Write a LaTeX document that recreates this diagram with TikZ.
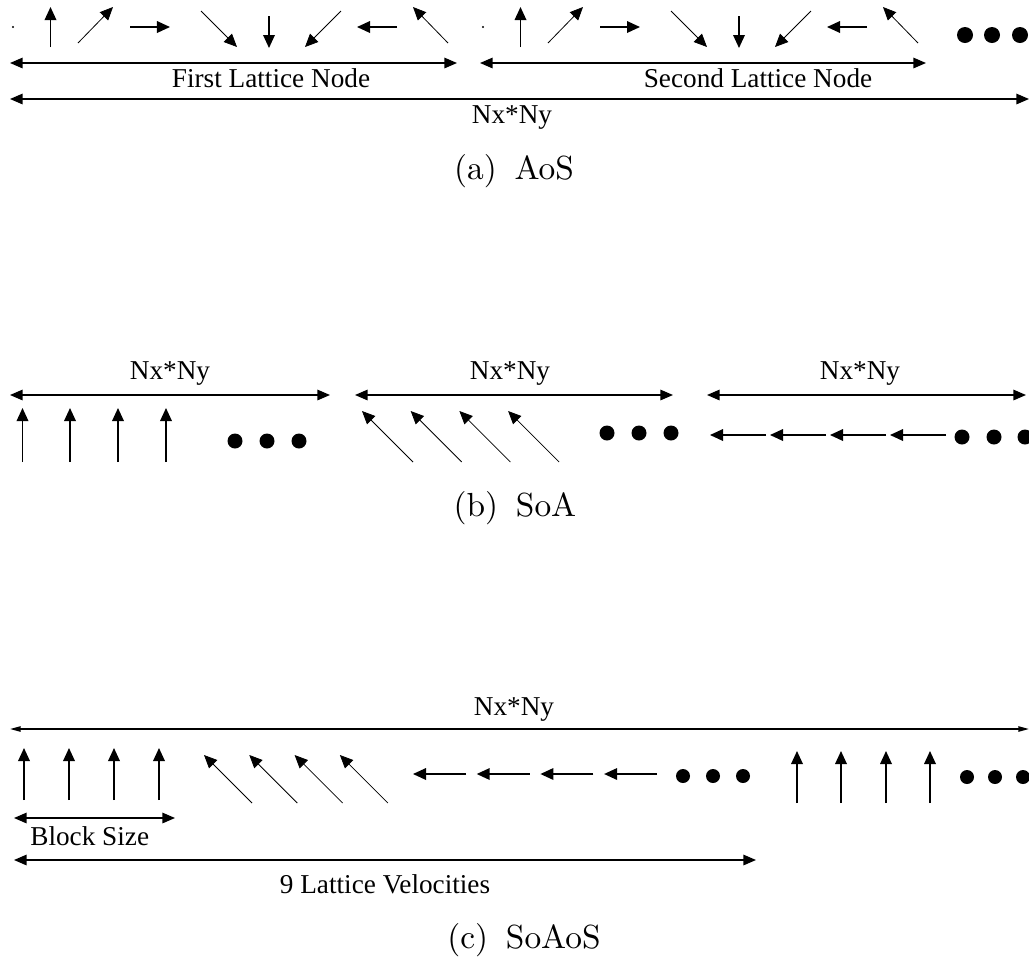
\documentclass[tikz,border=0pt]{standalone}
\usepackage{fontspec}
\newfontfamily\lblfont{Liberation Serif}
\newfontfamily\capfont{lmroman10-regular.otf}
\usetikzlibrary{arrows.meta}
\tikzset{
  vec/.style={line width=0.85pt,-{Triangle[length=7.4pt,width=6.6pt]}},
  dvec/.style={line width=0.45pt,-{Triangle[length=7.4pt,width=6.6pt]}},
  dimarrow/.style={line width=0.8pt,{Triangle[length=7.2pt,width=6pt]}-{Triangle[length=7.2pt,width=6pt]}},
  thindim/.style={line width=0.8pt,{Triangle[length=6pt,width=3pt]}-{Triangle[length=6pt,width=3pt]}},
  lbl/.style={font=\lblfont\fontsize{15.5}{18}\selectfont, inner sep=0pt, anchor=base},
  captext/.style={font=\capfont\fontsize{19}{22}\selectfont, inner sep=0pt, anchor=base},
}
\begin{document}
\begin{tikzpicture}[x=0.02cm,y=-0.02cm]
\useasboundingbox (0,0) rectangle (1029,958);

% ---------- (a) AoS ----------
\foreach \o in {0,470}{
  \fill (13+\o,27) circle[radius=1.2];
  \draw[vec]  (50.5+\o,47) -- (50.5+\o,7);
  \draw[dvec] (78+\o,43) -- (113+\o,7);
  \draw[vec]  (130+\o,27) -- (170+\o,27);
  \draw[dvec] (201+\o,11) -- (237+\o,47);
  \draw[vec]  (269+\o,16) -- (269+\o,48);
  \draw[dvec] (341+\o,11) -- (305+\o,47);
  \draw[vec]  (397+\o,27) -- (357+\o,27);
  \draw[dvec] (448+\o,43) -- (413+\o,7);
}
\foreach \x in {965,992,1020} \fill (\x,35) circle[radius=8];

\coordinate (a1l) at (10,63);  \coordinate (a1r) at (457,63);
\coordinate (a2l) at (480,63); \coordinate (a2r) at (926,63);
\coordinate (a3l) at (10,99);  \coordinate (a3r) at (1029,99);
\draw[dimarrow] (a1l) -- (a1r);
\draw[dimarrow] (a2l) -- (a2r);
\draw[dimarrow] (a3l) -- (a3r);
\node[lbl] (fln) at (271,87) {First Lattice Node};
\node[lbl] (sln) at (758,87) {Second Lattice Node};
\node[lbl] (anxny) at (512,123) {Nx*Ny};
\node[captext] (capa) at (514,179) {(a)\hspace{0.2em} AoS};

% ---------- (b) SoA ----------
\coordinate (b1l) at (10,395);  \coordinate (b1r) at (330,395);
\coordinate (b2l) at (355,395); \coordinate (b2r) at (673,395);
\coordinate (b3l) at (707,395); \coordinate (b3r) at (1026,395);
\draw[dimarrow] (b1l) -- (b1r);
\draw[dimarrow] (b2l) -- (b2r);
\draw[dimarrow] (b3l) -- (b3r);
\node[lbl] (bnxny1) at (170,379) {Nx*Ny};
\node[lbl] (bnxny2) at (510,379) {Nx*Ny};
\node[lbl] (bnxny3) at (860,379) {Nx*Ny};
\foreach \x in {22.5,70,118,166} \draw[vec] (\x,462) -- (\x,408);
\foreach \x in {235,267,299} \fill (\x,441) circle[radius=7.5];
\foreach \i in {0,1,2,3} \draw[dvec] (413+48.7*\i,462) -- (362+48.7*\i,411);
\foreach \x in {607,639,671} \fill (\x,433) circle[radius=7.5];
\foreach \i in {0,1,2,3} \draw[vec] (766+60*\i,435) -- (710+60*\i,435);
\foreach \x in {962,994,1025} \fill (\x,437) circle[radius=7.5];
\node[captext] (capb) at (515,516) {(b)\hspace{0.2em} SoA};

% ---------- (c) SoAoS ----------
\coordinate (c1l) at (10,729);  \coordinate (c1r) at (1029,729);
\draw[thindim] (c1l) -- (c1r);
\node[lbl] (cnxny) at (514,715) {Nx*Ny};
\foreach \x in {24,69,114,159} \draw[vec] (\x,800) -- (\x,748);
\foreach \i in {0,1,2,3} \draw[dvec] (252+45.3*\i,803) -- (204+45.3*\i,755);
\foreach \i in {0,1,2,3} \draw[vec] (466+63.7*\i,774) -- (413+63.7*\i,774);
\foreach \x in {683,713,743} \fill (\x,776) circle[radius=7];
\foreach \x in {797,841,886,930} \draw[vec] (\x,803) -- (\x,751);
\foreach \x in {967,995,1023} \fill (\x,777) circle[radius=7];
\coordinate (bsl) at (14,818); \coordinate (bsr) at (175,818);
\draw[dimarrow] (bsl) -- (bsr);
\node[lbl, anchor=base west] (bs) at (30,845) {Block Size};
\coordinate (lvl) at (14,860); \coordinate (lvr) at (756,860);
\draw[dimarrow] (lvl) -- (lvr);
\node[lbl] (lv) at (385,893) {9 Lattice Velocities};
\node[captext] (capc) at (524,948) {(c)\hspace{0.2em} SoAoS};
\end{tikzpicture}
\end{document}
